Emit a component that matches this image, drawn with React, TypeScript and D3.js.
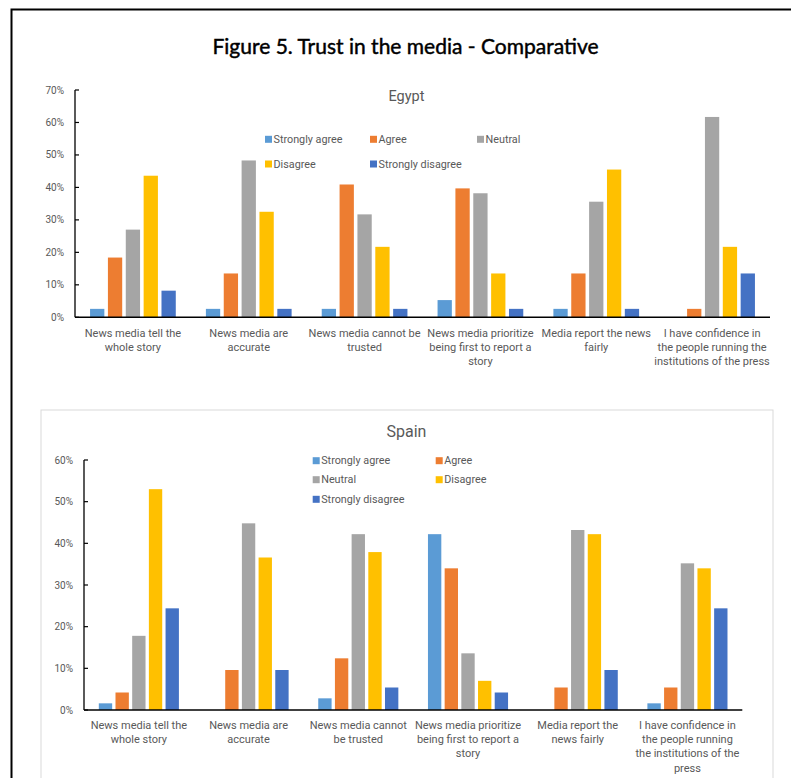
import React from "react";
import * as d3 from "d3";

const categories = [
  "News media tell the whole story",
  "News media are accurate",
  "News media cannot be trusted",
  "News media prioritize being first to report a story",
  "Media report the news fairly",
  "I have confidence in the people running the institutions of the press",
];

const egyptLabelLines = [
  ["News media tell the", "whole story"],
  ["News media are", "accurate"],
  ["News media cannot be", "trusted"],
  ["News media prioritize", "being first to report a", "story"],
  ["Media report the news", "fairly"],
  ["I have confidence in", "the people running the", "institutions of the press"],
];

const spainLabelLines = [
  ["News media tell the", "whole story"],
  ["News media are", "accurate"],
  ["News media cannot", "be trusted"],
  ["News media prioritize", "being first to report a", "story"],
  ["Media report the", "news fairly"],
  ["I have confidence in", "the people running", "the institutions of the", "press"],
];

const seriesNames = ["Strongly agree", "Agree", "Neutral", "Disagree", "Strongly disagree"];
const seriesColors = ["#5B9BD5", "#ED7D31", "#A5A5A5", "#FFC000", "#4472C4"];

// Egypt values (%)
const egyptStronglyAgree = [2.6, 2.6, 2.6, 5.3, 2.6, 0];
const egyptAgree = [18.4, 13.5, 40.9, 39.7, 13.5, 2.6];
const egyptNeutral = [27.0, 48.3, 31.7, 38.2, 35.6, 61.7];
const egyptDisagree = [43.6, 32.5, 21.7, 13.5, 45.5, 21.7];
const egyptStronglyDisagree = [8.2, 2.6, 2.6, 2.6, 2.6, 13.5];

// Spain values (%)
const spainStronglyAgree = [1.6, 0, 2.8, 42.2, 0, 1.6];
const spainAgree = [4.2, 9.6, 12.4, 34.0, 5.4, 5.4];
const spainNeutral = [17.8, 44.8, 42.2, 13.6, 43.2, 35.2];
const spainDisagree = [53.0, 36.6, 37.9, 7.0, 42.2, 34.0];
const spainStronglyDisagree = [24.4, 9.6, 5.4, 4.2, 9.6, 24.4];

const egyptTicks = [0, 10, 20, 30, 40, 50, 60, 70];
const spainTicks = [0, 10, 20, 30, 40, 50, 60];

const egyptSeries = [egyptStronglyAgree, egyptAgree, egyptNeutral, egyptDisagree, egyptStronglyDisagree];
const spainSeries = [spainStronglyAgree, spainAgree, spainNeutral, spainDisagree, spainStronglyDisagree];

const FONT = "Roboto, 'Noto Sans', sans-serif";
const GRAY = "#595959";

type LegendItem = { idx: number; x: number; y: number };

function BarChart(props: {
  title: string;
  titleY: number;
  titleSize: number;
  x0: number;
  x1: number;
  yBase: number;
  yTop: number;
  max: number;
  ticks: number[];
  series: number[][];
  labels: string[][];
  labelY: number;
  labelStep: number;
  legend: LegendItem[];
  outerPad: number;
}) {
  const { x0, x1, yBase, yTop, max } = props;
  const x = d3
    .scaleBand<string>()
    .domain(categories)
    .range([x0, x1])
    .paddingInner(props.outerPad)
    .paddingOuter(props.outerPad / 2);
  const inner = d3
    .scaleBand<string>()
    .domain(seriesNames)
    .range([0, x.bandwidth()])
    .paddingInner(0.2)
    .paddingOuter(0);
  const y = d3.scaleLinear().domain([0, max]).range([yBase, yTop]);
  return (
    <g>
      <text
        x={406.5}
        y={props.titleY}
        textAnchor="middle"
        dominantBaseline="central"
        fontFamily={FONT}
        fontSize={props.titleSize}
        fill={GRAY}
      >
        {props.title}
      </text>
      {props.legend.map((l) => (
        <g key={l.idx}>
          <rect x={l.x} y={l.y - 3.5} width={7} height={7} fill={seriesColors[l.idx]} />
          <text
            x={l.x + 8.5}
            y={l.y}
            dominantBaseline="central"
            fontFamily={FONT}
            fontSize={10.8}
            fill={GRAY}
          >
            {seriesNames[l.idx]}
          </text>
        </g>
      ))}
      {props.series.map((vals, si) =>
        vals.map((v, ci) =>
          v > 0 ? (
            <rect
              key={`${si}-${ci}`}
              x={(x(categories[ci]) as number) + (inner(seriesNames[si]) as number)}
              y={y(v)}
              width={inner.bandwidth()}
              height={yBase - y(v)}
              fill={seriesColors[si]}
            />
          ) : null
        )
      )}
      {props.ticks.map((t) => (
        <g key={t}>
          <line x1={x0} x2={x0 + 4} y1={y(t)} y2={y(t)} stroke="#000" strokeWidth={1.2} />
          <text
            x={x0 - 11}
            y={y(t)}
            textAnchor="end"
            dominantBaseline="central"
            fontFamily={FONT}
            fontSize={10}
            fill={GRAY}
          >
            {t}%
          </text>
        </g>
      ))}
      <line x1={x0} x2={x0} y1={yTop} y2={yBase} stroke="#000" strokeWidth={1.3} />
      <line x1={x0} x2={x1} y1={yBase} y2={yBase} stroke="#000" strokeWidth={1.5} />
      {props.labels.map((lines, ci) => (
        <text key={ci} textAnchor="middle" fontFamily={FONT} fontSize={11} fill={GRAY}>
          {lines.map((ln, li) => (
            <tspan
              key={li}
              x={(x(categories[ci]) as number) + x.bandwidth() / 2}
              y={props.labelY + li * props.labelStep}
              dominantBaseline="central"
            >
              {ln}
            </tspan>
          ))}
        </text>
      ))}
    </g>
  );
}

export default function App() {
  return (
    <svg
      width={791}
      height={778}
      style={{ position: "absolute", left: 0, top: 0, background: "#fff" }}
    >
      <rect x={0} y={0} width={791} height={778} fill="#fff" />
      <path d="M11.5,778 L11.5,9.5 L795,9.5" fill="none" stroke="#000" strokeWidth={2} />
      <text
        x={405.5}
        y={45}
        textAnchor="middle"
        dominantBaseline="central"
        fontFamily="Lato, sans-serif"
        fontWeight={400}
        fontSize={21}
        fill="#000"
        stroke="#000"
        strokeWidth={0.45}
      >
        Figure 5. Trust in the media - Comparative
      </text>
      <BarChart
        title="Egypt"
        titleY={96}
        titleSize={14.5}
        x0={75}
        x1={770}
        yBase={317.3}
        yTop={90}
        max={70}
        ticks={egyptTicks}
        series={egyptSeries}
        labels={egyptLabelLines}
        labelY={333.3}
        labelStep={14.3}
        outerPad={0.26}
        legend={[
          { idx: 0, x: 265, y: 139.3 },
          { idx: 1, x: 370, y: 139.3 },
          { idx: 2, x: 477, y: 139.3 },
          { idx: 3, x: 265, y: 164 },
          { idx: 4, x: 370, y: 164 },
        ]}
      />
      <rect x={41} y={410} width={732} height={400} fill="none" stroke="#d9d9d9" strokeWidth={1} />
      <BarChart
        title="Spain"
        titleY={431.7}
        titleSize={16}
        x0={84}
        x1={742.3}
        yBase={710}
        yTop={460}
        max={60}
        ticks={spainTicks}
        series={spainSeries}
        labels={spainLabelLines}
        labelY={725}
        labelStep={14.4}
        outerPad={0.27}
        legend={[
          { idx: 0, x: 312.7, y: 460.7 },
          { idx: 1, x: 435.7, y: 460.7 },
          { idx: 2, x: 312.7, y: 479.7 },
          { idx: 3, x: 435.7, y: 479.7 },
          { idx: 4, x: 312.7, y: 499.3 },
        ]}
      />
    </svg>
  );
}
